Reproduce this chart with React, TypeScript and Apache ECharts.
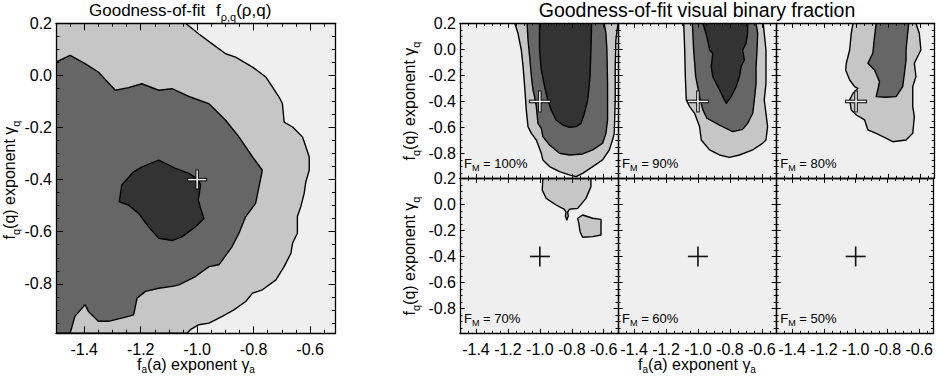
import { useEffect, useRef } from "react";
import * as echarts from "echarts";

type Pt = [number, number];

const FONT = "'Liberation Sans', Arial, Helvetica, sans-serif";

const X_MIN = -1.5;
const X_MAX = -0.51;
const Y_MIN = -0.99;
const Y_MAX = 0.2;
const X_MAJOR_TICKS = [-1.4, -1.2, -1.0, -0.8, -0.6];
const Y_MAJOR_TICKS = [0.2, 0.0, -0.2, -0.4, -0.6, -0.8];
const BEST_FIT: Pt = [-1.0, -0.4];

const BACKGROUND = "#efefef";
const LEVEL_COLORS = ["#c6c6c6", "#666666", "#333333"];

// ---- left panel: f_{rho,q} goodness-of-fit contours ----
const PQ_OUTER: Pt[] = [
  [-1.041, 0.2], [-0.994, 0.159], [-0.947, 0.121], [-0.899, 0.083], [-0.864, 0.07], [-0.804, 0.032],
  [-0.757, -0.006], [-0.733, -0.045], [-0.71, -0.083], [-0.698, -0.108], [-0.692, -0.179], [-0.662, -0.198],
  [-0.627, -0.236], [-0.615, -0.274], [-0.603, -0.313], [-0.603, -0.364], [-0.615, -0.408], [-0.621, -0.453],
  [-0.633, -0.504], [-0.645, -0.542], [-0.645, -0.606], [-0.662, -0.644], [-0.668, -0.683], [-0.692, -0.734],
  [-0.721, -0.785], [-0.769, -0.823], [-0.804, -0.836], [-0.828, -0.868], [-0.87, -0.9], [-0.911, -0.925],
  [-0.958, -0.951], [-0.994, -0.957], [-1.024, -0.976], [-1.036, -0.99], [-1.5, -0.99], [-1.5, 0.2],
];
const PQ_MIDDLE: Pt[] = [
  [-1.5, 0.051], [-1.45, 0.077], [-1.397, 0.045], [-1.35, 0.013], [-1.29, -0.057], [-1.243, -0.047],
  [-1.196, -0.032], [-1.136, -0.057], [-1.089, -0.051], [-1.024, -0.083], [-0.959, -0.108], [-0.899, -0.172],
  [-0.852, -0.236], [-0.804, -0.313], [-0.769, -0.364], [-0.793, -0.491], [-0.828, -0.542], [-0.852, -0.606],
  [-0.876, -0.657], [-0.923, -0.727], [-0.958, -0.734], [-1.006, -0.772], [-1.065, -0.804], [-1.089, -0.81],
  [-1.136, -0.817], [-1.183, -0.829], [-1.213, -0.855], [-1.225, -0.919], [-1.243, -0.925], [-1.314, -0.944],
  [-1.35, -0.944], [-1.385, -0.906], [-1.397, -0.88], [-1.433, -0.925], [-1.45, -0.99], [-1.5, -0.99],
];
const PQ_INNER: Pt[] = [
  [-1.136, -0.325], [-1.195, -0.351], [-1.225, -0.37], [-1.267, -0.421], [-1.276, -0.485], [-1.243, -0.498],
  [-1.207, -0.53], [-1.172, -0.581], [-1.136, -0.625], [-1.089, -0.634], [-1.053, -0.619], [-1.006, -0.581],
  [-0.976, -0.549], [-0.988, -0.51], [-0.996, -0.478], [-0.988, -0.421], [-0.994, -0.402], [-1.029, -0.376],
  [-1.077, -0.357],
];

// ---- right panels: visual binary fraction F_M ----
const FM_VALUES = ["100%", "90%", "80%", "70%", "60%", "50%"];

const FM100_OUTER: Pt[] = [
  [-1.157, 0.2], [-1.137, 0.123], [-1.116, -0.005], [-1.105, -0.133], [-1.095, -0.286], [-1.085, -0.465],
  [-1.074, -0.593], [-1.053, -0.645], [-1.022, -0.696], [-0.991, -0.798], [-0.981, -0.849], [-0.939, -0.9],
  [-0.877, -0.939], [-0.815, -0.964], [-0.773, -0.977], [-0.732, -0.952], [-0.669, -0.9], [-0.607, -0.849],
  [-0.565, -0.772], [-0.545, -0.696], [-0.534, -0.645], [-0.528, -0.389], [-0.528, -0.133], [-0.524, 0.072],
  [-0.516, 0.149], [-0.51, 0.2],
];
const FM100_MIDDLE: Pt[] = [
  [-1.08, 0.2], [-1.074, 0.072], [-1.064, -0.056], [-1.053, -0.209], [-1.043, -0.312], [-1.033, -0.363],
  [-1.022, -0.44], [-1.012, -0.568], [-0.991, -0.606], [-0.981, -0.67], [-0.939, -0.734], [-0.877, -0.798],
  [-0.815, -0.811], [-0.732, -0.803], [-0.669, -0.772], [-0.607, -0.721], [-0.586, -0.645], [-0.576, -0.542],
  [-0.576, -0.261], [-0.58, -0.005], [-0.586, 0.123], [-0.597, 0.2],
];
const FM100_INNER: Pt[] = [
  [-1.002, 0.2], [-1.002, -0.005], [-0.991, -0.158], [-0.97, -0.286], [-0.95, -0.389], [-0.929, -0.465],
  [-0.898, -0.542], [-0.856, -0.581], [-0.815, -0.598], [-0.773, -0.593], [-0.742, -0.568], [-0.721, -0.491],
  [-0.7, -0.389], [-0.686, -0.209], [-0.68, -0.005], [-0.676, 0.2],
];

const FM90_OUTER: Pt[] = [
  [-1.089, 0.2], [-1.083, -0.005], [-1.079, -0.209], [-1.073, -0.389], [-1.052, -0.44], [-1.021, -0.491],
  [-0.99, -0.593], [-0.979, -0.696], [-0.927, -0.772], [-0.865, -0.811], [-0.803, -0.829], [-0.74, -0.811],
  [-0.657, -0.772], [-0.595, -0.721], [-0.574, -0.696], [-0.564, -0.593], [-0.574, -0.491], [-0.585, -0.389],
  [-0.574, -0.261], [-0.574, -0.133], [-0.574, -0.005], [-0.585, 0.123], [-0.591, 0.2],
];
const FM90_MIDDLE: Pt[] = [
  [-1.035, 0.2], [-1.027, -0.005], [-1.014, -0.209], [-0.99, -0.363], [-0.969, -0.465], [-0.944, -0.529],
  [-0.865, -0.581], [-0.782, -0.632], [-0.72, -0.614], [-0.689, -0.568], [-0.657, -0.491], [-0.647, -0.389],
  [-0.636, -0.261], [-0.636, -0.133], [-0.63, -0.005], [-0.626, 0.123], [-0.636, 0.2],
];
const FM90_INNER: Pt[] = [
  [-0.969, 0.2], [-0.944, 0.098], [-0.927, -0.005], [-0.907, -0.03], [-0.917, -0.133], [-0.907, -0.209],
  [-0.875, -0.286], [-0.844, -0.363], [-0.823, -0.414], [-0.792, -0.363], [-0.761, -0.286], [-0.74, -0.209],
  [-0.73, -0.133], [-0.709, -0.082], [-0.72, -0.005], [-0.699, 0.046], [-0.689, 0.123], [-0.689, 0.2],
];

const FM80_OUTER: Pt[] = [
  [-1.019, 0.2], [-1.03, 0.123], [-1.04, -0.005], [-1.061, -0.107], [-1.065, -0.159], [-1.04, -0.235],
  [-1.009, -0.286], [-0.988, -0.299], [-1.019, -0.337], [-1.04, -0.389], [-1.03, -0.465], [-0.998, -0.504],
  [-0.946, -0.542], [-0.926, -0.619], [-0.874, -0.645], [-0.832, -0.67], [-0.77, -0.709], [-0.687, -0.696],
  [-0.645, -0.645], [-0.635, -0.517], [-0.645, -0.44], [-0.645, -0.286], [-0.625, -0.209], [-0.635, -0.107],
  [-0.594, -0.005], [-0.604, 0.123], [-0.625, 0.2],
];
const FM80_MIDDLE: Pt[] = [
  [-0.874, 0.2], [-0.884, 0.098], [-0.895, -0.03], [-0.926, -0.107], [-0.884, -0.159], [-0.853, -0.248],
  [-0.864, -0.312], [-0.874, -0.363], [-0.812, -0.368], [-0.749, -0.363], [-0.708, -0.286], [-0.697, -0.184],
  [-0.687, -0.082], [-0.687, -0.005], [-0.677, 0.123], [-0.67, 0.2],
];

const FM70_OUTER_A: Pt[] = [
  [-0.981, 0.2], [-0.985, 0.11], [-0.96, 0.046], [-0.898, -0.005], [-0.846, -0.038], [-0.836, -0.06],
  [-0.84, -0.09], [-0.831, -0.12], [-0.822, -0.09], [-0.826, -0.06], [-0.815, -0.038], [-0.763, -0.031],
  [-0.711, 0.046], [-0.68, 0.136], [-0.68, 0.2],
];
const FM70_OUTER_B: Pt[] = [
  [-0.763, -0.107], [-0.732, -0.082], [-0.669, -0.107], [-0.617, -0.115], [-0.617, -0.235], [-0.669, -0.248],
  [-0.732, -0.253], [-0.748, -0.21], [-0.756, -0.146],
];

type Contour = { pts: Pt[]; level: number };

const PANEL_CONTOURS: Contour[][] = [
  [{ pts: FM100_OUTER, level: 0 }, { pts: FM100_MIDDLE, level: 1 }, { pts: FM100_INNER, level: 2 }],
  [{ pts: FM90_OUTER, level: 0 }, { pts: FM90_MIDDLE, level: 1 }, { pts: FM90_INNER, level: 2 }],
  [{ pts: FM80_OUTER, level: 0 }, { pts: FM80_MIDDLE, level: 1 }],
  [{ pts: FM70_OUTER_A, level: 0 }, { pts: FM70_OUTER_B, level: 0 }],
  [],
  [],
];

function steps(from: number, to: number, step: number): number[] {
  const out: number[] = [];
  const n = Math.floor((to - from) / step + 1e-9);
  for (let i = 0; i <= n; i++) out.push(Math.round((from + i * step) * 1000) / 1000);
  return out;
}
const X_MINOR_TICKS = steps(-1.5, X_MAX, 0.05);
const Y_MINOR_TICKS = steps(-0.95, Y_MAX, 0.05);

function buildOption() {
  const grids: any[] = [];
  const xAxes: any[] = [];
  const yAxes: any[] = [];
  const series: any[] = [];

  const addPanel = (
    rect: { left: number; top: number; width: number; height: number },
    showX: boolean,
    showY: boolean,
    majorLen: number,
    minorLen: number,
    contours: Contour[],
    outlinedMarker: boolean,
    arm: number
  ) => {
    const g = grids.length;
    grids.push({ ...rect, show: true, backgroundColor: BACKGROUND, borderWidth: 0 });
    const xBase = xAxes.length;
    const yBase = yAxes.length;
    const lineStyle = { color: "#000", width: 1.3 };
    const labelStyle = { color: "#000", fontSize: 16, fontFamily: FONT };
    const mkX = (position: string, major: boolean, labels: boolean) => ({
      type: "value", gridIndex: g, position, min: X_MIN, max: X_MAX, z: 5,
      axisLine: { show: !major, onZero: false, lineStyle },
      axisTick: {
        show: true, inside: true, length: major ? majorLen : minorLen,
        customValues: major ? X_MAJOR_TICKS : X_MINOR_TICKS, lineStyle: { color: "#000", width: 1 },
      },
      axisLabel: labels
        ? { show: true, customValues: X_MAJOR_TICKS, formatter: (v: number) => Number(v).toFixed(1), margin: 10, lineHeight: 12, ...labelStyle }
        : { show: false },
      splitLine: { show: false },
    });
    const mkY = (position: string, major: boolean, labels: boolean) => ({
      type: "value", gridIndex: g, position, min: Y_MIN, max: Y_MAX, z: 5,
      axisLine: { show: !major, onZero: false, lineStyle },
      axisTick: {
        show: true, inside: true, length: major ? majorLen : minorLen,
        customValues: major ? Y_MAJOR_TICKS : Y_MINOR_TICKS, lineStyle: { color: "#000", width: 1 },
      },
      axisLabel: labels
        ? { show: true, customValues: Y_MAJOR_TICKS, formatter: (v: number) => Number(v).toFixed(1), margin: 4, ...labelStyle }
        : { show: false },
      splitLine: { show: false },
    });
    xAxes.push(mkX("bottom", false, false), mkX("bottom", true, showX), mkX("top", false, false), mkX("top", true, false));
    yAxes.push(mkY("left", false, false), mkY("left", true, showY), mkY("right", false, false), mkY("right", true, false));

    if (contours.length) {
      series.push({
        type: "custom", coordinateSystem: "cartesian2d", xAxisIndex: xBase, yAxisIndex: yBase,
        clip: true, z: 2, silent: true,
        data: contours.map((c) => [c.pts[0][0], c.pts[0][1]]),
        encode: { x: 0, y: 1 },
        renderItem: (params: any, api: any) => {
          const c = contours[params.dataIndex];
          const points = c.pts.map((p) => api.coord(p));
          return {
            type: "polygon", z2: c.level,
            shape: { points },
            style: { fill: LEVEL_COLORS[c.level], stroke: "#000", lineWidth: 1.4, lineJoin: "round" },
          };
        },
      });
    }
    series.push({
      type: "custom", coordinateSystem: "cartesian2d", xAxisIndex: xBase, yAxisIndex: yBase,
      z: 10, silent: true, clip: false,
      data: [BEST_FIT],
      encode: { x: 0, y: 1 },
      renderItem: (_p: any, api: any) => {
        const [cx, cy] = api.coord([api.value(0), api.value(1)]);
        const seg = (w: number, color: string, a: number) => [
          { type: "line", shape: { x1: cx - a, y1: cy, x2: cx + a, y2: cy }, style: { stroke: color, lineWidth: w } },
          { type: "line", shape: { x1: cx, y1: cy - a, x2: cx, y2: cy + a }, style: { stroke: color, lineWidth: w } },
        ];
        const children = outlinedMarker
          ? [...seg(3.6, "#111", arm + 1), ...seg(1.4, "#ffffff", arm)]
          : seg(1.6, "#111", arm);
        return { type: "group", children };
      },
    });
  };

  // left panel
  addPanel({ left: 56, top: 23.3, width: 279.5, height: 310 }, true, true, 7, 3.5,
    [{ pts: PQ_OUTER, level: 0 }, { pts: PQ_MIDDLE, level: 1 }, { pts: PQ_INNER, level: 2 }], true, 9);

  // right 3x2 panels
  const RX = 460, RY = 23.3, PW = 158.1, PH = 155;
  for (let i = 0; i < 6; i++) {
    const col = i % 3, row = Math.floor(i / 3);
    addPanel({ left: RX + col * PW, top: RY + row * PH, width: PW, height: PH },
      row === 1, col === 0, 4.5, 2.5, PANEL_CONTOURS[i], row === 0, 10);
  }

  const tStyle = (size: number, lh: number) => ({ fontSize: size, lineHeight: lh, verticalAlign: "top", fontFamily: FONT, fill: "#000", color: "#000" });
  const sStyle = (size: number, pad: number) => ({ fontSize: size, lineHeight: size, padding: [pad, 0, 0, 0], verticalAlign: "top", fontFamily: FONT, fill: "#000", color: "#000" });
  const rich = (main: number, sub: number, pad: number, lh?: number) => ({ t: tStyle(main, lh ?? main + 2), s: sStyle(sub, pad) });

  const txt = (text: string, x: number, y: number, r: any, opts: any = {}) => ({
    type: "text", x, y, rotation: opts.rotation || 0, z: 20, silent: true,
    style: {
      text, rich: r, font: `16px ${FONT}`, fill: "#000",
      align: opts.align || "center", textAlign: opts.align || "center",
      verticalAlign: "middle", textVerticalAlign: "middle",
    },
  });

  const graphic: any[] = [
    txt("{t|Goodness-of-fit}", 89, 11, rich(17, 11, 10), { align: "left" }),
    txt("{t|f}{s|ρ,q}{t|(ρ,q)}", 216, 11, rich(17, 11, 10), { align: "left" }),
    {
      type: "text", x: 697, y: 9.5, z: 20, silent: true,
      style: { text: "Goodness-of-fit visual binary fraction", font: `19.5px ${FONT}`, fill: "#000", align: "center", textAlign: "center", verticalAlign: "middle", textVerticalAlign: "middle" },
    },
    txt("{t|f}{s|a}{t|(a) exponent γ}{s|a}", 196, 364.5, rich(16, 10, 8, 16)),
    txt("{t|f}{s|a}{t|(a) exponent γ}{s|a}", 697, 364.5, rich(16, 10, 8, 16)),
    txt("{t|f}{s|q}{t|(q) exponent γ}{s|q}", 10, 180, rich(16, 11, 9), { rotation: Math.PI / 2 }),
    txt("{t|f}{s|q}{t|(q) exponent γ}{s|q}", 410, 101, rich(16, 11, 9), { rotation: Math.PI / 2 }),
    txt("{t|f}{s|q}{t|(q) exponent γ}{s|q}", 410, 256, rich(16, 11, 9), { rotation: Math.PI / 2 }),
  ];
  for (let i = 0; i < 6; i++) {
    const col = i % 3, row = Math.floor(i / 3);
    graphic.push(txt(`{t|F}{s|M}{t| = ${FM_VALUES[i]}}`, RX + col * PW + 4, RY + row * PH + PH - 14,
      rich(13, 9, 7), { align: "left" }));
  }

  return {
    animation: false,
    backgroundColor: "#ffffff",
    grid: grids,
    xAxis: xAxes,
    yAxis: yAxes,
    series,
    graphic,
  };
}

export default function App() {
  const ref = useRef<HTMLDivElement>(null);
  useEffect(() => {
    if (!ref.current) return;
    const chart = echarts.init(ref.current, undefined, { renderer: "svg" });
    chart.setOption(buildOption() as any);
    return () => chart.dispose();
  }, []);
  return (
    <div
      ref={ref}
      style={{ position: "fixed", left: 0, top: 0, width: 936, height: 376, background: "#fff" }}
    />
  );
}
